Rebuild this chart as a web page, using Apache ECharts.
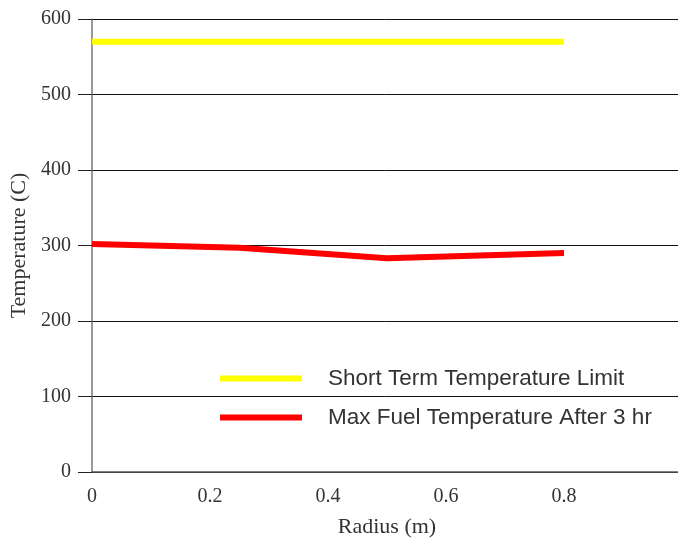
<!DOCTYPE html>
<html><head><meta charset="utf-8">
<script src="https://cdn.jsdelivr.net/npm/echarts@6/dist/echarts.min.js"></script>
<style>html,body{margin:0;padding:0;background:#fff}#c{width:678px;height:539px}</style>
</head><body><div id="c"></div>
<script>
const limitX = [0, 0.8];
const limitY = [570, 570];
const fuelX = [0, 0.25, 0.5, 0.8];
const fuelY = [302, 297, 283, 290];
const xTicks = [0, 0.2, 0.4, 0.6, 0.8];
const seriesNames = ['Short Term Temperature Limit', 'Max Fuel Temperature After 3 hr'];

const chart = echarts.init(document.getElementById('c'));
const tickFont = {fontFamily: 'Liberation Serif', fontSize: 20, color: '#333'};
chart.setOption({
  animation: false,
  grid: {left: 92, right: -4, top: 19, bottom: 67, containLabel: false, outerBoundsMode: 'none'},
  legend: {
    orient: 'vertical', left: 215, top: 362, itemWidth: 82, itemHeight: 6, itemGap: 16,
    icon: 'rect',
    textStyle: {fontFamily: 'Liberation Sans', fontSize: 22.5, color: '#333', padding: [0, 0, 0, 21]},
    data: seriesNames
  },
  xAxis: {
    type: 'value', min: 0, max: 1, interval: 0.2,
    name: 'Radius (m)', nameLocation: 'middle', nameGap: 44,
    nameTextStyle: {fontFamily: 'Liberation Serif', fontSize: 22, color: '#333'},
    axisLine: {show: true, lineStyle: {color: '#555', width: 1.5}},
    axisTick: {show: false},
    splitLine: {show: false},
    axisLabel: Object.assign({margin: 15, formatter: v => xTicks.some(t => Math.abs(t - v) < 1e-9) ? String(+v.toFixed(1)) : ''}, tickFont)
  },
  yAxis: {
    type: 'value', min: 0, max: 600, interval: 100,
    name: 'Temperature (C)', nameLocation: 'middle', nameGap: 62,
    nameTextStyle: {fontFamily: 'Liberation Serif', fontSize: 22, color: '#333'},
    axisLine: {show: true, lineStyle: {color: '#777', width: 1.5}},
    axisTick: {show: true, length: 14, lineStyle: {color: '#222', width: 1}},
    splitLine: {show: true, lineStyle: {color: '#111', width: 1}},
    axisLabel: Object.assign({margin: 21}, tickFont)
  },
  series: [
    {name: seriesNames[0], type: 'line', showSymbol: false, symbol: 'none',
     data: limitX.map((x, i) => [x, limitY[i]]),
     itemStyle: {color: '#ffff00'}, lineStyle: {color: '#ffff00', width: 6}},
    {name: seriesNames[1], type: 'line', showSymbol: false, symbol: 'none',
     data: fuelX.map((x, i) => [x, fuelY[i]]),
     itemStyle: {color: '#ff0000'}, lineStyle: {color: '#ff0000', width: 6}}
  ]
});
</script></body></html>
